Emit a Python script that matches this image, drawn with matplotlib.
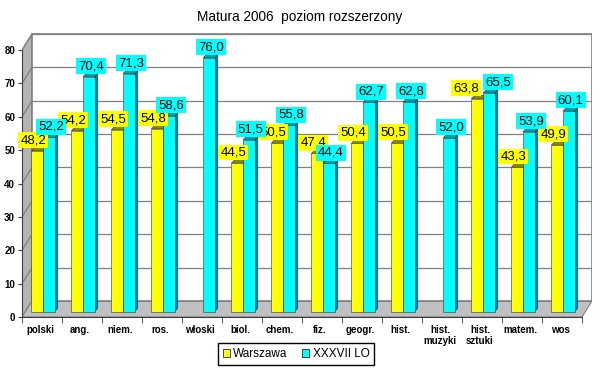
import matplotlib
matplotlib.use("Agg")
import matplotlib.pyplot as plt
from matplotlib.patches import Polygon, Rectangle
import numpy as np

plt.rcParams["font.family"] = ["Liberation Sans", "DejaVu Sans"]

categories = ["polski", "ang.", "niem.", "ros.", "włoski", "biol.", "chem.", "fiz.",
              "geogr.", "hist.", "hist.\nmuzyki", "hist.\nsztuki", "matem.", "wos"]
warszawa = [48.2, 54.2, 54.5, 54.8, None, 44.5, 50.5, 47.4, 50.4, 50.5, None, 63.8, 43.3, 49.9]
liceum = [52.2, 70.4, 71.3, 58.6, 76.0, 51.5, 55.8, 44.4, 62.7, 62.8, 52.0, 65.5, 53.9, 60.1]
series_names = ["Warszawa", "XXXVII LO"]
yticks = [0, 10, 20, 30, 40, 50, 60, 70, 80]

YELLOW = "#ffff00"
CYAN = "#00ffff"
SIDE = "#1878b8"
GRAY = "#c0c0c0"
GRID = "#808080"

# 3D look parameters (data units)
DX, DY = 0.25, 4.8      # depth of the box
BASE = 1.6              # bars stand in the middle of the floor
BW = 0.29               # bar width
SX, SY = 0.08, 1.0      # bar side depth


def fmt(v):
    return f"{v:.1f}".replace(".", ",")


fig = plt.figure(figsize=(6, 3.75), dpi=100)
ax = fig.add_axes([22 / 600, 1 - 317 / 375, 570 / 600, 284 / 375])
n = len(categories)
ax.set_xlim(-0.5, n - 0.5 + DX)
ax.set_ylim(0, 80 + DY + 0.3)

# walls and floor
x0, x1 = -0.5, n - 0.5
ax.add_patch(Polygon([(x0, 0), (x0 + DX, DY), (x0 + DX, 80 + DY), (x0, 80)],
                     closed=True, fc="#b4b4b4", ec=GRID, lw=0.8, zorder=0))
ax.add_patch(Polygon([(x0, 0), (x1, 0), (x1 + DX, DY), (x0 + DX, DY)],
                     closed=True, fc=GRAY, ec=GRID, lw=0.8, zorder=0))
ax.add_patch(Rectangle((x0 + DX, DY), x1 - x0, 80, fc="white", ec=GRID, lw=1.2, zorder=0))
for v in yticks[1:]:
    ax.plot([x0 + DX, x1 + DX], [v + DY, v + DY], color=GRID, lw=0.9, zorder=0.5)
    ax.plot([x0, x0 + DX], [v, v + DY], color=GRID, lw=0.9, zorder=0.5)

# bars
for i in range(n):
    c = i + 0.025
    spread = 0.0
    if warszawa[i] is not None and abs(warszawa[i] - liceum[i]) < 3:
        spread = 0.18
    bars = [(warszawa[i], c - BW, YELLOW, "#8c8c00", -0.1 - spread),
            (liceum[i], c, CYAN, "#00a0b0", 0.05 + spread)]
    for k, (val, left, col, topcol, _) in enumerate(bars):
        if val is None:
            continue
        top = BASE + val
        ax.add_patch(Polygon([(left + BW, BASE), (left + BW + SX, BASE + SY),
                              (left + BW + SX, top + SY), (left + BW, top)],
                             closed=True, fc=SIDE, ec="#333333", lw=0.4, zorder=2 + k))
        ax.add_patch(Polygon([(left, top), (left + SX, top + SY),
                              (left + BW + SX, top + SY), (left + BW, top)],
                             closed=True, fc=topcol, ec="#333333", lw=0.4, zorder=2 + k))
        ax.add_patch(Rectangle((left, BASE), BW, val, fc=col, ec="#333333",
                               lw=0.4, zorder=2 + k))
    for k, (val, left, col, _, off) in enumerate(bars):
        if val is None:
            continue
        ax.text(left + BW / 2 + off, BASE + val + 1.4, fmt(val), ha="center", va="bottom",
                fontsize=9.5, color="black", zorder=10 + k,
                bbox=dict(boxstyle="square,pad=0.15", fc=col, ec="none"))

# axes
for s in ["top", "right"]:
    ax.spines[s].set_visible(False)
ax.spines["left"].set_bounds(0, 80)
ax.spines["bottom"].set_bounds(x0, x1)
ax.spines["left"].set_color("#404040")
ax.spines["bottom"].set_color("#404040")
ax.set_yticks(yticks)
ax.set_yticklabels([str(v) for v in yticks], fontsize=7, fontweight="bold")
ax.tick_params(axis="y", length=3, pad=2, color="#404040")
ax.set_xticks(np.arange(n) - 0.05)
ax.set_xticklabels(categories, fontsize=7, fontweight="bold", linespacing=1.1, va="top")
ax.tick_params(axis="x", length=0, pad=6)
ax.set_xticks(np.arange(n + 1) - 0.5, minor=True)
ax.tick_params(axis="x", which="minor", length=4, color="#404040")

fig.text(0.5, 1 - 17 / 375, "Matura 2006  poziom rozszerzony", ha="center", va="center",
         fontsize=9.8)

handles = [Rectangle((0, 0), 1, 1, fc=YELLOW, ec="black", lw=0.5),
           Rectangle((0, 0), 1, 1, fc=CYAN, ec="black", lw=0.5)]
fig.legend(handles, series_names, loc="center", bbox_to_anchor=(296 / 600, 1 - 354 / 375),
           ncol=2, fontsize=8.5, frameon=True, fancybox=False, edgecolor="black",
           handlelength=0.6, handleheight=0.6, handletextpad=0.3, columnspacing=1.2,
           borderpad=0.4, framealpha=1)

fig.savefig("out.png", dpi=100)
